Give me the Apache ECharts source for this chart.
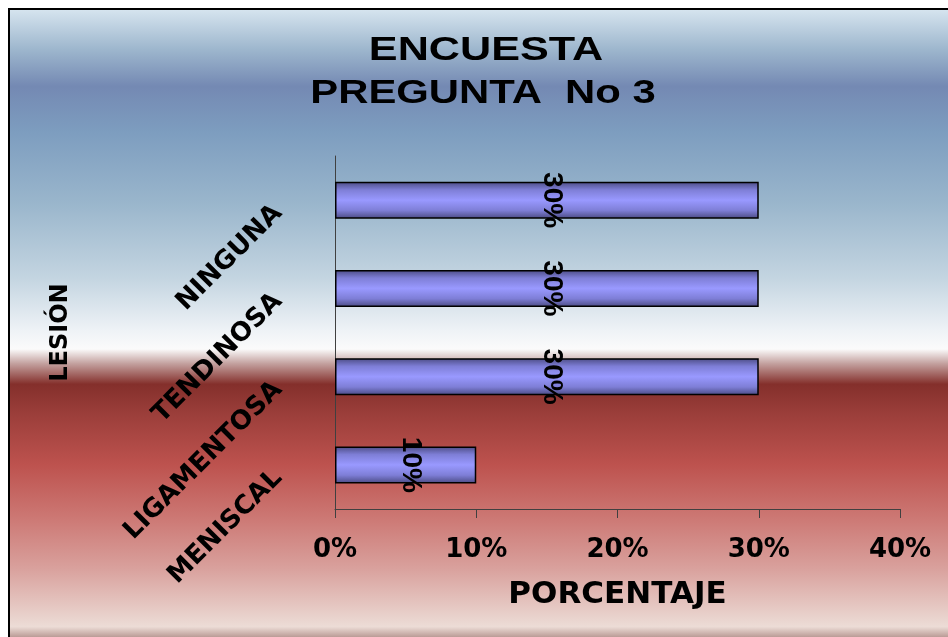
<!DOCTYPE html>
<html>
<head>
<meta charset="utf-8">
<script src="https://cdn.jsdelivr.net/npm/echarts@6/dist/echarts.min.js"></script>
<style>
html,body{margin:0;padding:0;background:#fff;}
#chart{width:948px;height:637px;}
</style>
</head>
<body>
<div id="chart"></div>
<script>
// Data
const titleLines = ['ENCUESTA', 'PREGUNTA  No 3'];
const categories = ['MENISCAL', 'LIGAMENTOSA', 'TENDINOSA', 'NINGUNA'];
const values = [10, 30, 30, 30];
const xMin = 0, xMax = 40, xInterval = 10;
const xAxisName = 'PORCENTAJE';
const yAxisName = 'LESIÓN';

const chart = echarts.init(document.getElementById('chart'), null, {renderer: 'canvas'});

const bgGradient = new echarts.graphic.LinearGradient(0, 0, 0, 1, [
  {offset: 0.000, color: '#d8e6f0'},
  {offset: 0.064, color: '#9db6cd'},
  {offset: 0.120, color: '#7489b3'},
  {offset: 0.190, color: '#7d9dbf'},
  {offset: 0.300, color: '#9ab6cc'},
  {offset: 0.415, color: '#c4d5e1'},
  {offset: 0.494, color: '#eef2f6'},
  {offset: 0.523, color: '#fbfbfb'},
  {offset: 0.545, color: '#c4a2a0'},
  {offset: 0.577, color: '#842f2b'},
  {offset: 0.622, color: '#9b3e3a'},
  {offset: 0.700, color: '#bd524e'},
  {offset: 0.780, color: '#cc7773'},
  {offset: 0.860, color: '#d9a19d'},
  {offset: 0.949, color: '#ecdcd6'},
  {offset: 0.973, color: '#a07a75'},
  {offset: 1.000, color: '#6e3a36'}
]);

const barGradient = new echarts.graphic.LinearGradient(0, 0, 0, 1, [
  {offset: 0, color: '#4a4a82'},
  {offset: 0.22, color: '#7e7ed6'},
  {offset: 0.5, color: '#9999ff'},
  {offset: 0.78, color: '#7e7ed6'},
  {offset: 1, color: '#4a4a82'}
]);

const option = {
  animation: false,
  graphic: [
    {
      type: 'rect', z: -10, silent: true,
      shape: {x: 9, y: 9, width: 960, height: 650},
      style: {fill: bgGradient, stroke: '#000', lineWidth: 2}
    },
    {
      type: 'text', x: 486, y: 51, scaleX: 1.27, z: 10,
      style: {text: titleLines[0], font: 'bold 34px "Liberation Sans", Arial, sans-serif', fill: '#000', textAlign: 'center', textVerticalAlign: 'middle'}
    },
    {
      type: 'text', x: 483, y: 94, scaleX: 1.23, z: 10,
      style: {text: titleLines[1], font: 'bold 34px "Liberation Sans", Arial, sans-serif', fill: '#000', textAlign: 'center', textVerticalAlign: 'middle'}
    }
  ],
  grid: {left: 335, right: 48, top: 156, bottom: 128, containLabel: false},
  xAxis: {
    type: 'value', min: xMin, max: xMax, interval: xInterval,
    name: xAxisName, nameLocation: 'middle', nameGap: 70,
    nameTextStyle: {fontFamily: 'DejaVu Sans', fontWeight: 'bold', fontSize: 31, color: '#000'},
    axisLine: {show: true, lineStyle: {color: '#404040', width: 1}},
    axisTick: {show: true, length: 9, lineStyle: {color: '#404040'}},
    splitLine: {show: false},
    axisLabel: {formatter: '{value}%', margin: 28, fontFamily: 'DejaVu Sans', fontWeight: 'bold', fontSize: 26, color: '#000'}
  },
  yAxis: {
    type: 'category', data: categories,
    name: yAxisName, nameLocation: 'middle', nameRotate: 90, nameGap: 262,
    nameTextStyle: {fontFamily: 'DejaVu Sans', fontWeight: 'bold', fontSize: 24, color: '#000'},
    axisLine: {show: true, lineStyle: {color: '#404040', width: 1}},
    axisTick: {show: false},
    axisLabel: {rotate: 45, margin: 66, verticalAlign: 'top', fontFamily: 'DejaVu Sans', fontWeight: 'bold', fontSize: 26, color: '#000'}
  },
  series: [{
    type: 'bar', data: values, barWidth: 37,
    itemStyle: {color: barGradient, borderColor: '#000', borderWidth: 1.5},
    label: {
      show: true, position: 'inside', rotate: -90, formatter: '{c}%', offset: [0, -5],
      fontFamily: '"Liberation Sans", Arial, sans-serif', fontWeight: 'bold', fontSize: 28, color: '#000'
    }
  }]
};
chart.setOption(option);
</script>
</body>
</html>
